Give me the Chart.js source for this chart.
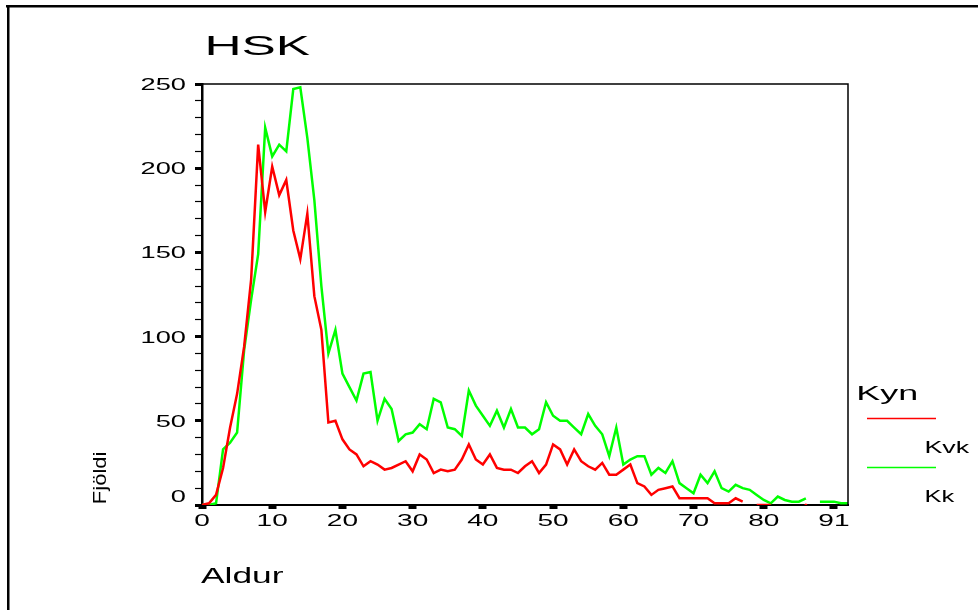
<!DOCTYPE html>
<html>
<head>
<meta charset="utf-8">
<title>HSK</title>
<script src="https://cdn.jsdelivr.net/npm/chart.js@4"></script>
<style>
  html, body { margin: 0; padding: 0; background: #fff; }
  #wrap { width: 978px; height: 610px; }
</style>
</head>
<body>
<div id="wrap"><canvas id="hskChart" width="978" height="610"></canvas></div>
<script>
// Data
const ages = [
    0, 1, 2, 3, 4, 5, 6, 7, 8, 9, 10, 11, 12, 13, 14, 15, 16, 17, 18, 19,
    20, 21, 22, 23, 24, 25, 26, 27, 28, 29, 30, 31, 32, 33, 34, 35, 36, 37, 38, 39,
    40, 41, 42, 43, 44, 45, 46, 47, 48, 49, 50, 51, 52, 53, 54, 55, 56, 57, 58, 59,
    60, 61, 62, 63, 64, 65, 66, 67, 68, 69, 70, 71, 72, 73, 74, 75, 76, 77, 78, 79,
    80, 81, 82, 83, 84, 85, 86, 87, 88, 90, 91, 92, 93
];
const kvk = [
    0, 1, 6, 22, 46, 66, 94, 134, 214, 174, 201, 184, 193, 163, 146, 173, 124, 104, 49, 50,
    39, 33, 30, 23, 26, 24, 21, 22, 24, 26, 20, 30, 27, 19, 21, 20, 21, 27, 36, 27,
    24, 30, 22, 21, 21, 19, 23, 26, 19, 24, 36, 33, 24, 33, 26, 23, 21, 25, 18, 18,
    21, 24, 13, 11, 6, 9, 10, 11, 4, 4, 4, 4, 4, 1, 1, 1, 4, 2, null, 0,
    0, 0, null, null, null, null, 0, null, null, null, null, null, null
];
const kk = [
    0, 0, 1, 33, 37, 43, 92, 122, 149, 224, 207, 214, 210, 247, 248, 218, 181, 130, 90, 104,
    78, 70, 62, 78, 79, 50, 63, 57, 38, 42, 43, 48, 45, 63, 61, 46, 45, 41, 68, 59,
    53, 47, 56, 46, 57, 46, 46, 42, 45, 61, 53, 50, 50, 46, 42, 54, 47, 42, 29, 46,
    24, 27, 29, 29, 18, 22, 19, 26, 13, 10, 7, 18, 13, 20, 10, 8, 12, 10, 9, 6,
    3, 1, 5, 3, 2, 2, 4, null, 2, 2, 2, 1, 1
];
const xTickLabels = [0, 10, 20, 30, 40, 50, 60, 70, 80, 91];
const yTickLabels = [0, 50, 100, 150, 200, 250];

const FONT = '"Liberation Sans", Arial, sans-serif';

// draw text stretched so its ink spans the given width
function fitText(c, text, x, y, size, width) {
    c.font = size + "px " + FONT;
    const m = c.measureText(text);
    const ink = m.actualBoundingBoxLeft + m.actualBoundingBoxRight;
    c.save();
    c.translate(x, y);
    c.scale(width / ink, 1);
    c.textAlign = "left";
    c.textBaseline = "alphabetic";
    c.fillText(text, m.actualBoundingBoxLeft, 0);
    c.restore();
}

function wideText(c, text, x, y, size, sx, align) {
    c.save();
    c.font = size + "px " + FONT;
    c.translate(x, y);
    c.scale(sx, 1);
    c.textAlign = align;
    c.textBaseline = "alphabetic";
    c.fillText(text, 0, 0);
    c.restore();
}

const decor = {
    id: "decor",
    beforeDraw(chart) {
        const c = chart.ctx;
        c.save();
        c.fillStyle = "#fff";
        c.fillRect(0, 0, chart.width, chart.height);
        c.fillStyle = "#000";
        c.fillRect(6, 5, 972, 2.5);
        c.fillRect(7, 5, 2.5, 605);
        c.restore();
    },
    afterDraw(chart) {
        const c = chart.ctx;
        const a = chart.chartArea;
        const xs = chart.scales.x;
        const ys = chart.scales.y;
        c.save();
        c.fillStyle = "#000";
        c.strokeStyle = "#000";

        // box top + right
        c.lineWidth = 1.5;
        c.beginPath();
        c.moveTo(a.left, a.top);
        c.lineTo(a.right, a.top);
        c.lineTo(a.right, a.bottom);
        c.stroke();

        // tick labels
        yTickLabels.forEach(function (v) {
            let y = ys.getPixelForValue(v) + 6;
            if (v === 0) y -= 9;
            wideText(c, String(v), 186, y, 16.5, 1.65, "right");
        });
        xTickLabels.forEach(function (v) {
            const x = xs.getPixelForValue(ages.indexOf(v));
            wideText(c, String(v), x, 526, 16.5, 1.7, "center");
        });

        // titles
        fitText(c, "HSK", 208, 55, 28.5, 102);
        fitText(c, "Aldur", 201, 583, 22, 82);

        c.save();
        c.translate(106, 503);
        c.rotate(-Math.PI / 2);
        fitText(c, "Fjöldi", 0, 0, 19, 50);
        c.restore();

        // legend
        fitText(c, "Kyn", 858, 400, 21, 59);
        c.lineWidth = 1.5;
        c.strokeStyle = "#ff0000";
        c.beginPath();
        c.moveTo(867, 418.5);
        c.lineTo(936, 418.5);
        c.stroke();
        c.strokeStyle = "#00ff00";
        c.beginPath();
        c.moveTo(867, 467.5);
        c.lineTo(936, 467.5);
        c.stroke();
        fitText(c, "Kvk", 926, 453, 17, 44);
        fitText(c, "Kk", 926, 501.5, 17, 29);
        c.restore();
    }
};

const hskChart = document.getElementById("hskChart");

new Chart(hskChart, {
    type: "line",
    data: {
        labels: ages,
        datasets: [
            {
                label: "Kvk",
                data: kvk,
                borderColor: "#ff0000",
                backgroundColor: "#ff0000",
                borderWidth: 2.5,
                tension: 0,
                spanGaps: false,
                pointRadius: function (ctx) {
                    const i = ctx.dataIndex;
                    const prev = kvk[i - 1], next = kvk[i + 1];
                    return kvk[i] !== null && prev === null && next === null ? 1.5 : 0;
                },
                pointBorderWidth: 0,
            },
            {
                label: "Kk",
                data: kk,
                borderColor: "#00ff00",
                backgroundColor: "#00ff00",
                borderWidth: 2.5,
                tension: 0,
                spanGaps: false,
                pointRadius: 0,
            },
        ],
    },
    options: {
        responsive: false,
        animation: false,
        layout: { padding: { top: 84, right: 130, left: 0, bottom: 0 } },
        plugins: {
            legend: { display: false },
            title: { display: false },
            tooltip: { enabled: false },
        },
        scales: {
            x: {
                type: "category",
                offset: false,
                ticks: { display: false, autoSkip: false },
                grid: {
                    drawOnChartArea: false,
                    drawTicks: true,
                    tickLength: 4,
                    tickWidth: 8,
                    tickColor: function (ctx) {
                        return xTickLabels.indexOf(ages[ctx.index]) !== -1 ? "#000" : "rgba(0,0,0,0)";
                    },
                },
                border: { color: "#000", width: 2 },
                afterFit: function (scale) { scale.height = 105; },
            },
            y: {
                min: 0,
                max: 250,
                ticks: { display: false, stepSize: 10 },
                grid: {
                    drawOnChartArea: false,
                    drawTicks: true,
                    tickLength: 7,
                    tickWidth: function (ctx) {
                        return ctx.tick && ctx.tick.value % 50 === 0 ? 3 : 1.2;
                    },
                    tickColor: "#000",
                },
                border: { color: "#000", width: 2.5 },
                afterFit: function (scale) { scale.width = 202; },
            },
        },
    },
    plugins: [decor],
});
</script>
</body>
</html>
